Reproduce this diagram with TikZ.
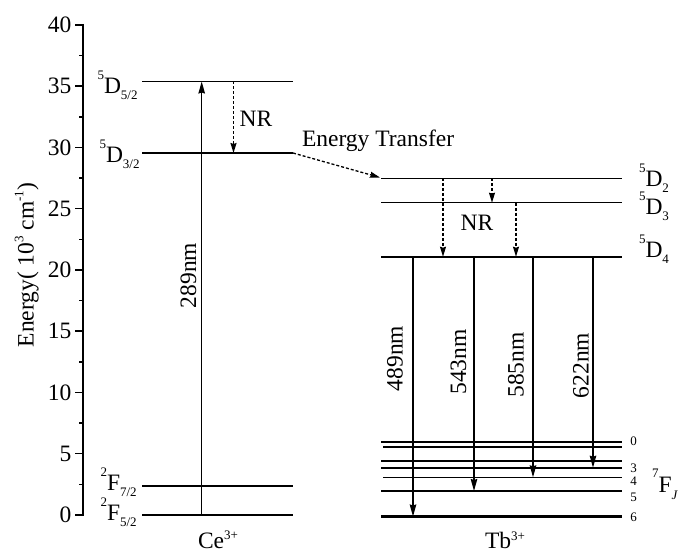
\documentclass[tikz,border=0pt]{standalone}
\usepackage{fontspec}
\setmainfont{Liberation Serif}
\usetikzlibrary{arrows.meta}
\newcommand{\smallfs}{\fontsize{13}{13}\selectfont}
\newcommand{\trm}[3]{\raisebox{14pt}{\smallfs #1}#2\raisebox{-6pt}{\smallfs #3}}
\begin{document}
\begin{tikzpicture}[x=1pt,y=-1pt,
  font=\fontsize{23.5}{23.5}\selectfont,
  lvlthin/.style={line width=1.5pt},
  lvlthick/.style={line width=2.2pt},
  radarrow/.style={line width=1.4pt,-{Stealth[length=12pt,width=6.5pt,inset=1pt]}},
  nrarrow/.style={line width=1.3pt,dash pattern=on 3pt off 2pt,-{Stealth[length=10pt,width=6pt,inset=1pt]}},
  lbl/.style={inner sep=0pt,outer sep=0pt},
  ticklbl/.style={inner sep=0pt,anchor=east},
  tiny/.style={inner sep=0pt,font=\smallfs}]
\useasboundingbox (0,0) rectangle (678,553);
% axis
\coordinate (axtop) at (83,24);
\coordinate (axbot) at (83,516);
\draw[line width=2pt] (axtop) -- (axbot);
\foreach \v in {0,5,...,40}{
  \draw[line width=1.5pt] (75,{515-12.25*\v}) -- (83,{515-12.25*\v});
  \node[ticklbl] (t\v) at (71.5,{515-12.25*\v}) {\v};
}
\foreach \v in {2.5,7.5,...,37.5}{
  \draw[line width=1.5pt] (79,{515-12.25*\v}) -- (83,{515-12.25*\v});
}
\node[lbl,anchor=base,rotate=90] (ylab) at (33.5,265)
  {Energy( 10\raisebox{10pt}{\smallfs 3} cm\raisebox{10pt}{\smallfs -1})};
% Ce levels
\coordinate (ceAl) at (142,81.5);  \coordinate (ceAr) at (293,81.5);
\coordinate (ceBl) at (142,153);   \coordinate (ceBr) at (293,153);
\coordinate (ceCl) at (142,486);   \coordinate (ceCr) at (293,486);
\coordinate (ceDl) at (142,515);   \coordinate (ceDr) at (293,515);
\draw[lvlthin] (ceAl) -- (ceAr);
\draw[lvlthick] (ceBl) -- (ceBr);
\draw[lvlthin] (ceCl) -- (ceCr);
\draw[lvlthick] (ceDl) -- (ceDr);
\node[lbl,anchor=base west] (lD52) at (97.5,94) {\trm{5}{D}{5/2}};
\node[lbl,anchor=base west] (lD32) at (99.5,163) {\trm{5}{D}{3/2}};
\node[lbl,anchor=base west] (lF72) at (100.5,490) {\trm{2}{F}{7/2}};
\node[lbl,anchor=base west] (lF52) at (100.5,520) {\trm{2}{F}{5/2}};
\node[lbl,anchor=base west] (ce) at (198,548) {Ce\raisebox{9pt}{\smallfs 3+}};
% Ce arrows
\coordinate (exB) at (201.7,515); \coordinate (exT) at (201.7,81.5);
\draw[radarrow] (exB) -- (exT);
\node[lbl,rotate=90] (l289) at (188.5,275.5) {289nm};
\coordinate (nrA) at (233.5,81.5); \coordinate (nrB) at (233.5,153);
\draw[nrarrow] (nrA) -- (nrB);
\node[lbl] (nr1) at (256,119) {NR};
% energy transfer
\coordinate (etA) at (293,153); \coordinate (etB) at (380,177.5);
\draw[nrarrow] (etA) -- (etB);
\node[lbl,anchor=base west] (et) at (302,147) {Energy Transfer};
% Tb levels
\foreach \n/\y/\s/\xl in {D2/178.3/lvlthin/381, D3/202.7/lvlthin/381, D4/256.7/lvlthick/381,
  F0/442/lvlthick/381, F1/447.3/lvlthick/383, F2/460.7/lvlthick/381, F3/467.7/lvlthick/381,
  F4/477.3/lvlthin/383, F5/491/lvlthick/381, F6/516.5/lvlthick/381}{
  \coordinate (tb\n l) at (\xl,\y); \coordinate (tb\n r) at (622,\y);
  \draw[\s] (tb\n l) -- (tb\n r);
}
\node[lbl,anchor=base west] (lD2) at (639,187) {\trm{5}{D}{2}};
\node[lbl,anchor=base west] (lD3) at (639,215) {\trm{5}{D}{3}};
\node[lbl,anchor=base west] (lD4) at (639,258) {\trm{5}{D}{4}};
\node[lbl,anchor=base west] (lF) at (652,493) {\raisebox{15pt}{\smallfs 7}F\raisebox{-7pt}{\smallfs\itshape J}};
\node[tiny] (j0) at (633.5,441.7) {0};
\node[tiny] (j3) at (633.5,468) {3};
\node[tiny] (j4) at (633.5,481) {4};
\node[tiny] (j5) at (633.5,497) {5};
\node[tiny] (j6) at (633.5,517) {6};
\node[lbl,anchor=base west] (tb) at (485,548.5) {Tb\raisebox{8pt}{\smallfs 3+}};
% Tb NR arrows
\coordinate (n1a) at (443,178.3); \coordinate (n1b) at (443,256.7);
\coordinate (n2a) at (492,178.3); \coordinate (n2b) at (492,202.7);
\coordinate (n3a) at (516,202.7); \coordinate (n3b) at (516,256.7);
\draw[nrarrow] (n1a) -- (n1b);
\draw[nrarrow] (n2a) -- (n2b);
\draw[nrarrow] (n3a) -- (n3b);
\node[lbl] (nr2) at (477,223) {NR};
% emissions
\coordinate (e1a) at (413,256.7); \coordinate (e1b) at (413,516.5);
\coordinate (e2a) at (474,256.7); \coordinate (e2b) at (474,491);
\coordinate (e3a) at (533,256.7); \coordinate (e3b) at (533,477.3);
\coordinate (e4a) at (593,256.7); \coordinate (e4b) at (593,467.7);
\draw[radarrow] (e1a) -- (e1b);
\draw[radarrow] (e2a) -- (e2b);
\draw[radarrow] (e3a) -- (e3b);
\draw[radarrow] (e4a) -- (e4b);
\node[lbl,rotate=90] (l489) at (395,358.5) {489nm};
\node[lbl,rotate=90] (l543) at (458.5,362) {543nm};
\node[lbl,rotate=90] (l585) at (516,365) {585nm};
\node[lbl,rotate=90] (l622) at (581,365.5) {622nm};
\end{tikzpicture}
\end{document}
